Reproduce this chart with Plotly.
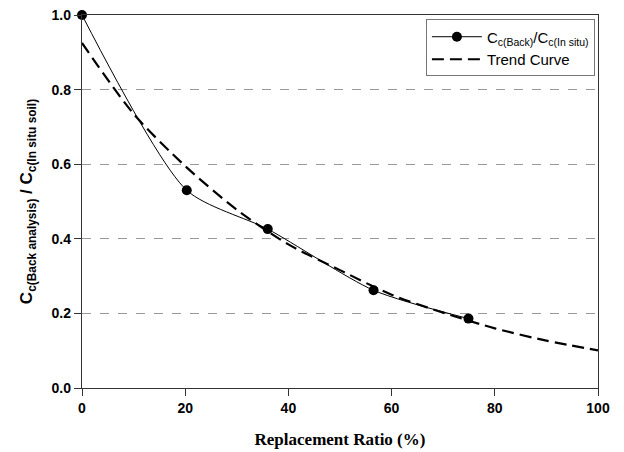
import plotly.graph_objects as go

# Measured data
ratio_pct = [0, 20.3, 36.0, 56.5, 74.9]
cc_ratio = [1.0, 0.530, 0.426, 0.262, 0.186]

# Trend curve
trend_x = [0, 10, 20, 30, 40, 50, 60, 70, 80, 90, 100]
trend_y = [0.925, 0.735, 0.595, 0.478, 0.385, 0.316, 0.25, 0.202, 0.16, 0.127, 0.101]

x_ticks = [0, 20, 40, 60, 80, 100]
y_ticks = [0.0, 0.2, 0.4, 0.6, 0.8, 1.0]

fig = go.Figure()
fig.add_trace(go.Scatter(
    x=ratio_pct, y=cc_ratio, mode="lines+markers",
    name="C<sub>c(Back)</sub>/C<sub>c(In situ)</sub>",
    line=dict(color="black", width=1, shape="spline", smoothing=0.7),
    marker=dict(color="black", size=10, symbol="circle"),
    cliponaxis=False,
))
fig.add_trace(go.Scatter(
    x=trend_x, y=trend_y, mode="lines", name="Trend Curve",
    line=dict(color="black", width=2.2, dash="12px,6px", shape="spline", smoothing=0.8),
))

axis_common = dict(
    showline=True, linecolor="#333", linewidth=1.3, mirror=True,
    ticks="outside", ticklen=7, tickwidth=1.3, tickcolor="#333",
    zeroline=False, automargin=False, ticklabeloverflow="allow",
    tickfont=dict(family="Liberation Sans, Arial", size=14, color="black", weight="bold"),
)

fig.update_layout(
    width=624, height=452,
    margin=dict(l=74, r=34, t=7, b=72),
    paper_bgcolor="white", plot_bgcolor="white",
    showlegend=True,
    legend=dict(
        x=0.994, y=0.988, xanchor="right", yanchor="top",
        bordercolor="#777", borderwidth=1, bgcolor="white",
        font=dict(family="Liberation Sans, Arial", size=15, color="black"),
        itemwidth=50, tracegroupgap=0,
    ),
    xaxis=dict(
        range=[0, 100], tickvals=x_ticks, ticktext=[str(v) for v in x_ticks],
        showgrid=False,
        title=dict(text="Replacement Ratio (%)", standoff=18,
                   font=dict(family="Liberation Serif, Times New Roman", size=17, color="black", weight="bold")),
        **axis_common,
    ),
    yaxis=dict(
        range=[0, 1.0], tickvals=y_ticks, ticktext=[f"{v:.1f}" for v in y_ticks],
        showgrid=True, gridcolor="#999", gridwidth=1, griddash="dash",
        title=dict(text="C<sub>c(Back analysis)</sub> / C<sub>c(In situ soil)</sub>", standoff=14,
                   font=dict(family="Liberation Sans, Arial", size=17, color="black", weight="bold")),
        **axis_common,
    ),
)

fig.write_html("out.html")
